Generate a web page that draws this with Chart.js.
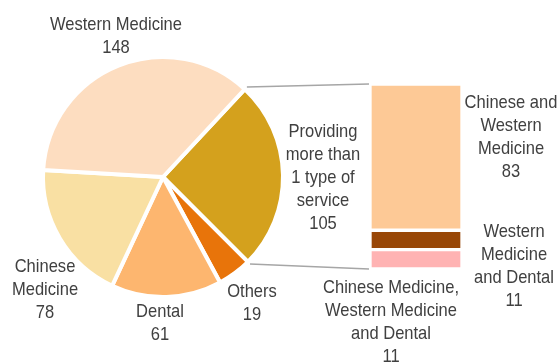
<!DOCTYPE html>
<html>
<head>
<meta charset="utf-8">
<script src="https://cdn.jsdelivr.net/npm/chart.js@4"></script>
<style>
  html, body { margin: 0; padding: 0; background: #fff; }
  #cadre { position: relative; width: 559px; height: 362px; }
  #cadre canvas { position: absolute; left: 0; top: 0; }
</style>
</head>
<body>
<div id="cadre">
  <canvas id="chartPie" width="559" height="362"></canvas>
  <canvas id="chartBarre" width="559" height="362"></canvas>
</div>
<script>
// camembert : types de service
const categoriesPie = [
  ["Providing", "more than", "1 type of", "service"],
  ["Others"],
  ["Dental"],
  ["Chinese", "Medicine"],
  ["Western Medicine"]
];
const valeursPie = [105, 19, 61, 78, 148];
const couleursPie = ["#D4A11D", "#E8740A", "#FDB66F", "#F9E0A3", "#FDDDC0"];

// barre de détail : plus d'un type de service (de bas en haut)
const categoriesBarre = [
  ["Chinese Medicine,", "Western Medicine", "and Dental"],
  ["Western", "Medicine", "and Dental"],
  ["Chinese and", "Western", "Medicine"]
];
const valeursBarre = [11, 11, 83];
const couleursBarre = ["#FFB3B3", "#994707", "#FDC996"];

const POLICE = '19px "Liberation Sans", Arial, sans-serif';
const COULEUR_TEXTE = "#404040";
const INTERLIGNE = 23;

function ecrireLignes(ctx, lignes, x, y) {
  ctx.save();
  ctx.font = POLICE;
  ctx.fillStyle = COULEUR_TEXTE;
  ctx.textAlign = "center";
  ctx.textBaseline = "middle";
  lignes.forEach((ligne, i) => {
    ctx.save();
    ctx.translate(x, y + i * INTERLIGNE);
    ctx.scale(0.87, 1);
    ctx.fillText(ligne, 0, 0);
    ctx.restore();
  });
  ctx.restore();
}

// décalage des étiquettes par rapport au centre du camembert
const decalagesPie = [
  { dx: 160, dy: -45 },
  { dx: 89, dy: 115 },
  { dx: -3, dy: 135 },
  { dx: -118, dy: 90 },
  { dx: -47, dy: -152 }
];

const etiquettesPie = {
  id: "etiquettesPie",
  afterDraw(chart) {
    const ctx = chart.ctx;
    const arcs = chart.getDatasetMeta(0).data;
    arcs.forEach((arc, i) => {
      const lignes = categoriesPie[i].concat([String(valeursPie[i])]);
      ecrireLignes(ctx, lignes, arc.x + decalagesPie[i].dx, arc.y + decalagesPie[i].dy);
    });
  }
};

const graphPie = new Chart(document.getElementById("chartPie"), {
  type: "pie",
  data: {
    labels: categoriesPie.map(l => l.join(" ")),
    datasets: [{
      data: valeursPie,
      backgroundColor: couleursPie,
      borderColor: "#FFFFFF",
      borderWidth: 4
    }]
  },
  options: {
    responsive: false,
    animation: false,
    rotation: 43,
    radius: 120,
    layout: { padding: { left: 45, right: 278, top: 59, bottom: 67 } },
    plugins: { legend: { display: false }, tooltip: { enabled: false } }
  },
  plugins: [etiquettesPie]
});

// décalage des étiquettes par rapport à la barre
const decalagesBarre = [
  { dx: 21, dy: 204 },
  { dx: 144, dy: 148 },
  { dx: 141, dy: 19 }
];

const etiquettesBarre = {
  id: "etiquettesBarre",
  afterDraw(chart) {
    const ctx = chart.ctx;
    const zone = chart.chartArea;

    // lignes de liaison entre la part et la barre
    const arc = graphPie.getDatasetMeta(0).data[0];
    const r = arc.outerRadius + 3;
    ctx.save();
    ctx.strokeStyle = "#A6A6A6";
    ctx.lineWidth = 1.5;
    ctx.beginPath();
    ctx.moveTo(arc.x + r * Math.cos(arc.startAngle), arc.y + r * Math.sin(arc.startAngle));
    ctx.lineTo(zone.left - 1, zone.top);
    ctx.moveTo(arc.x + r * Math.cos(arc.endAngle), arc.y + r * Math.sin(arc.endAngle));
    ctx.lineTo(zone.left - 1, zone.bottom);
    ctx.stroke();
    ctx.restore();

    categoriesBarre.forEach((lignes, i) => {
      const tout = lignes.concat([String(valeursBarre[i])]);
      ecrireLignes(ctx, tout, zone.left + decalagesBarre[i].dx, zone.top + decalagesBarre[i].dy);
    });
  }
};

new Chart(document.getElementById("chartBarre"), {
  type: "bar",
  data: {
    labels: [""],
    datasets: valeursBarre.map((v, i) => ({
      label: categoriesBarre[i].join(" "),
      data: [v],
      backgroundColor: couleursBarre[i],
      borderColor: "#FFFFFF",
      borderWidth: 2,
      borderSkipped: false,
      barPercentage: 1,
      categoryPercentage: 1
    }))
  },
  options: {
    responsive: false,
    animation: false,
    layout: { padding: { left: 370, right: 97, top: 84, bottom: 93 } },
    scales: {
      x: { display: false, stacked: true },
      y: { display: false, stacked: true, min: 0, max: 105 }
    },
    plugins: { legend: { display: false }, tooltip: { enabled: false } }
  },
  plugins: [etiquettesBarre]
});
</script>
</body>
</html>
